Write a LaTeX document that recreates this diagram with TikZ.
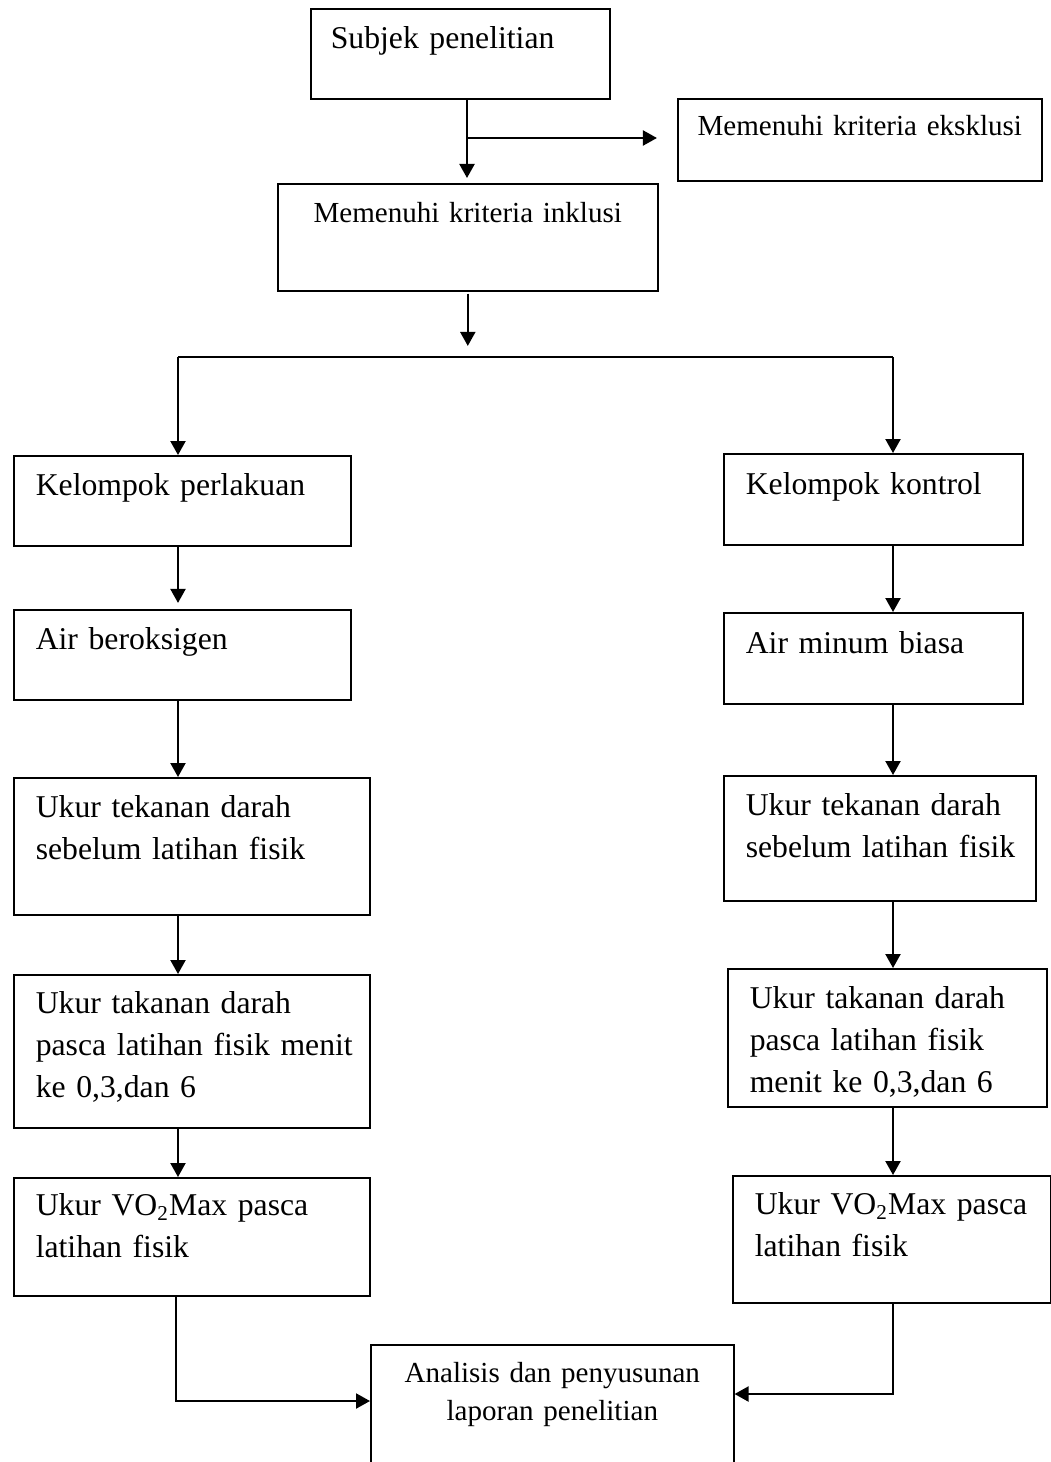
\documentclass[tikz,border=0pt]{standalone}
\usepackage{fontspec}
\setmainfont[WordSpace=0.75]{Liberation Serif}
\usetikzlibrary{arrows.meta}
\newlength\pxl
\setlength\pxl{0.3785pt}

\begin{document}
\begin{tikzpicture}[x=0.3785pt, y=-0.3785pt,
		kotak/.style={draw, line width=0.6pt, anchor=north west, inner sep=0pt, align=left,
			execute at begin node={\leftskip=22\pxl}, font=\fontsize{12}{15.9}\selectfont},
		kotaktengah/.style={draw, line width=0.6pt, anchor=north west, inner ysep=0pt, inner xsep=10\pxl,
			align=center, font=\fontsize{11}{14.4}\selectfont},
		panah/.style={line width=0.75pt, -{Triangle[width=5.7pt,length=5.3pt]}},
		garis/.style={line width=0.75pt}]
	\useasboundingbox (0,0) rectangle (1051,1462);
	\clip (0,0) rectangle (1051,1462);
	
	%Awal
	\node[kotak, execute at begin node={\leftskip=20\pxl}, text width=299\pxl, text height=40\pxl, text depth=50\pxl] (subjek) at (310,8) {Subjek penelitian};
	\node[kotaktengah, text width=344\pxl, text height=37\pxl, text depth=45\pxl] (eksklusi) at (677,98) {Memenuhi kriteria eksklusi};
	\node[kotaktengah, text width=360\pxl, text height=39\pxl, text depth=68\pxl] (inklusi) at (277,183) {Memenuhi kriteria inklusi};
	
	%Kelompok perlakuan
	\node[kotak, text width=337\pxl, text height=40\pxl, text depth=50\pxl] (perlakuan) at (13,455) {Kelompok perlakuan};
	\node[kotak, text width=337\pxl, text height=40\pxl, text depth=50\pxl] (oksigen) at (13,609) {Air beroksigen};
	\node[kotak, text width=356\pxl, text height=40\pxl, text depth=97\pxl] (tekananL) at (13,777) {Ukur tekanan darah\\sebelum latihan fisik};
	\node[kotak, text width=356\pxl, text height=39\pxl, text depth=114\pxl] (takananL) at (13,974) {Ukur takanan darah\\pasca latihan fisik menit\\ke 0,3,dan 6};
	\node[kotak, text width=356\pxl, text height=38\pxl, text depth=80\pxl] (vomaxL) at (13,1177) {Ukur VO\textsubscript{2}Max pasca\\latihan fisik};
	
	%Kelompok kontrol
	\node[kotak, text width=299\pxl, text height=41\pxl, text depth=50\pxl] (kontrol) at (723,453) {Kelompok kontrol};
	\node[kotak, text width=299\pxl, text height=41\pxl, text depth=50\pxl] (biasa) at (723,612) {Air minum biasa};
	\node[kotak, text width=312\pxl, text height=40\pxl, text depth=85\pxl] (tekananR) at (723,775) {Ukur tekanan darah\\sebelum latihan fisik};
	\node[kotak, text width=319\pxl, text height=40\pxl, text depth=98\pxl] (takananR) at (727,968) {Ukur takanan darah\\pasca latihan fisik\\menit ke 0,3,dan 6};
	\node[kotak, text width=318\pxl, text height=39\pxl, text depth=88\pxl] (vomaxR) at (732,1175) {Ukur VO\textsubscript{2}Max pasca\\latihan fisik};
	
	%Akhir
	\node[kotaktengah, text width=343\pxl, text height=38\pxl, text depth=98\pxl] (analisis) at (370,1344) {Analisis dan penyusunan\\laporan penelitian};
	
	\coordinate (cabang) at (467,138);
	\coordinate (bagiL) at (178,357);
	\coordinate (bagiR) at (893,357);
	\coordinate (gabungL) at (176,1401);
	\coordinate (gabungR) at (893,1394);
	
	\draw[panah, shorten >=1.9pt] (subjek.south -| cabang) -- (inklusi.north -| cabang);
	\draw[panah, shorten >=7.6pt] (cabang) -- (cabang -| eksklusi.west);
	\draw[panah, shorten <=0.8pt, shorten >=4.2pt] (inklusi.south) -- (inklusi.south |- bagiL);
	\draw[garis] (bagiL) -- (bagiR);
	\draw[panah] (bagiL) -- (bagiL |- perlakuan.north);
	\draw[panah] (bagiR) -- (bagiR |- kontrol.north);
	
	\draw[panah, shorten >=2.3pt] (perlakuan.south -| bagiL) -- (oksigen.north -| bagiL);
	\draw[panah] (oksigen.south -| bagiL) -- (tekananL.north -| bagiL);
	\draw[panah] (tekananL.south -| bagiL) -- (takananL.north -| bagiL);
	\draw[panah] (takananL.south -| bagiL) -- (vomaxL.north -| bagiL);
	
	\draw[panah] (kontrol.south -| bagiR) -- (biasa.north -| bagiR);
	\draw[panah] (biasa.south -| bagiR) -- (tekananR.north -| bagiR);
	\draw[panah] (tekananR.south -| bagiR) -- (takananR.north -| bagiR);
	\draw[panah] (takananR.south -| bagiR) -- (vomaxR.north -| bagiR);
	
	\draw[panah] (vomaxL.south -| gabungL) -- (gabungL) -- (gabungL -| analisis.west);
	\draw[panah] (vomaxR.south -| gabungR) -- (gabungR) -- (gabungR -| analisis.east);
	
\end{tikzpicture}
\end{document}
